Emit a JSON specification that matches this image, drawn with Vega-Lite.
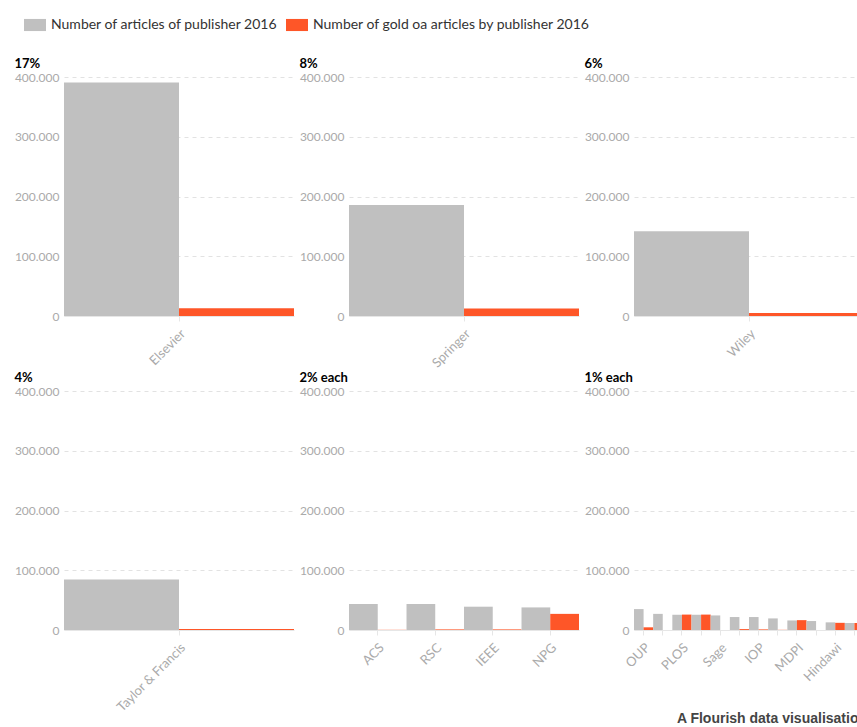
{
  "$schema": "https://vega.github.io/schema/vega-lite/v6.json",
  "padding": {"left": 14, "top": 14, "right": 5, "bottom": 3},
  "background": "#ffffff",
  "data": {
    "values": [
      {"panel": "17%", "publisher": "Elsevier", "series": "Number of articles of publisher 2016", "value": 391000},
      {"panel": "17%", "publisher": "Elsevier", "series": "Number of gold oa articles by publisher 2016", "value": 13000},
      {"panel": "8%", "publisher": "Springer", "series": "Number of articles of publisher 2016", "value": 185600},
      {"panel": "8%", "publisher": "Springer", "series": "Number of gold oa articles by publisher 2016", "value": 12400},
      {"panel": "6%", "publisher": "Wiley", "series": "Number of articles of publisher 2016", "value": 142000},
      {"panel": "6%", "publisher": "Wiley", "series": "Number of gold oa articles by publisher 2016", "value": 5000},
      {"panel": "4%", "publisher": "Taylor & Francis", "series": "Number of articles of publisher 2016", "value": 84500},
      {"panel": "4%", "publisher": "Taylor & Francis", "series": "Number of gold oa articles by publisher 2016", "value": 1500},
      {"panel": "2% each", "publisher": "ACS", "series": "Number of articles of publisher 2016", "value": 43500},
      {"panel": "2% each", "publisher": "ACS", "series": "Number of gold oa articles by publisher 2016", "value": 300},
      {"panel": "2% each", "publisher": "RSC", "series": "Number of articles of publisher 2016", "value": 43500},
      {"panel": "2% each", "publisher": "RSC", "series": "Number of gold oa articles by publisher 2016", "value": 1000},
      {"panel": "2% each", "publisher": "IEEE", "series": "Number of articles of publisher 2016", "value": 39000},
      {"panel": "2% each", "publisher": "IEEE", "series": "Number of gold oa articles by publisher 2016", "value": 1000},
      {"panel": "2% each", "publisher": "NPG", "series": "Number of articles of publisher 2016", "value": 37800},
      {"panel": "2% each", "publisher": "NPG", "series": "Number of gold oa articles by publisher 2016", "value": 27000},
      {"panel": "1% each", "publisher": "OUP", "series": "Number of articles of publisher 2016", "value": 35000},
      {"panel": "1% each", "publisher": "OUP", "series": "Number of gold oa articles by publisher 2016", "value": 4500},
      {"panel": "1% each", "publisher": "CUP", "series": "Number of articles of publisher 2016", "value": 27000},
      {"panel": "1% each", "publisher": "CUP", "series": "Number of gold oa articles by publisher 2016", "value": 0},
      {"panel": "1% each", "publisher": "PLOS", "series": "Number of articles of publisher 2016", "value": 25500},
      {"panel": "1% each", "publisher": "PLOS", "series": "Number of gold oa articles by publisher 2016", "value": 25800},
      {"panel": "1% each", "publisher": "Frontiers", "series": "Number of articles of publisher 2016", "value": 25500},
      {"panel": "1% each", "publisher": "Frontiers", "series": "Number of gold oa articles by publisher 2016", "value": 25800},
      {"panel": "1% each", "publisher": "Sage", "series": "Number of articles of publisher 2016", "value": 24400},
      {"panel": "1% each", "publisher": "Sage", "series": "Number of gold oa articles by publisher 2016", "value": 0},
      {"panel": "1% each", "publisher": "Wolters Kluwer", "series": "Number of articles of publisher 2016", "value": 21700},
      {"panel": "1% each", "publisher": "Wolters Kluwer", "series": "Number of gold oa articles by publisher 2016", "value": 1500},
      {"panel": "1% each", "publisher": "IOP", "series": "Number of articles of publisher 2016", "value": 21700},
      {"panel": "1% each", "publisher": "IOP", "series": "Number of gold oa articles by publisher 2016", "value": 1000},
      {"panel": "1% each", "publisher": "AIP", "series": "Number of articles of publisher 2016", "value": 19400},
      {"panel": "1% each", "publisher": "AIP", "series": "Number of gold oa articles by publisher 2016", "value": 300},
      {"panel": "1% each", "publisher": "MDPI", "series": "Number of articles of publisher 2016", "value": 16000},
      {"panel": "1% each", "publisher": "MDPI", "series": "Number of gold oa articles by publisher 2016", "value": 16500},
      {"panel": "1% each", "publisher": "APS", "series": "Number of articles of publisher 2016", "value": 15000},
      {"panel": "1% each", "publisher": "APS", "series": "Number of gold oa articles by publisher 2016", "value": 0},
      {"panel": "1% each", "publisher": "Hindawi", "series": "Number of articles of publisher 2016", "value": 12800},
      {"panel": "1% each", "publisher": "Hindawi", "series": "Number of gold oa articles by publisher 2016", "value": 12000},
      {"panel": "1% each", "publisher": "BMC", "series": "Number of articles of publisher 2016", "value": 11700},
      {"panel": "1% each", "publisher": "BMC", "series": "Number of gold oa articles by publisher 2016", "value": 11700}
    ]
  },
  "title": {
    "text": "A Flourish data visualisation",
    "orient": "bottom",
    "anchor": "end",
    "fontSize": 14,
    "fontWeight": "bold",
    "color": "#444444",
    "font": "Liberation Sans",
    "offset": 0,
    "dx": 3,
    "dy": -2
  },
  "columns": 3,
  "spacing": {"row": 75, "column": 55},
  "bounds": "flush",
  "resolve": {"scale": {"x": "independent", "xOffset": "independent"}},
  "concat": [
    {
      "title": "17%",
      "width": 230, "height": 239,
      "transform": [{"filter": "datum.panel == '17%'"}],
      "mark": {"type": "bar"},
      "encoding": {
        "x": {"field": "publisher", "type": "nominal", "sort": null, "scale": {"paddingInner": 0, "paddingOuter": 0}},
        "xOffset": {"field": "series", "type": "nominal", "sort": null, "scale": {"paddingInner": 0, "paddingOuter": 0}},
        "y": {"field": "value", "type": "quantitative", "scale": {"domain": [0, 400000], "nice": false}, "axis": {"values": [0, 100000, 200000, 300000, 400000]}},
        "color": {"field": "series", "type": "nominal", "sort": null, "scale": {"domain": ["Number of articles of publisher 2016", "Number of gold oa articles by publisher 2016"], "range": ["#c0c0c0", "#fe5628"]}}
      }
    },
    {
      "title": "8%",
      "width": 230, "height": 239,
      "transform": [{"filter": "datum.panel == '8%'"}],
      "mark": {"type": "bar"},
      "encoding": {
        "x": {"field": "publisher", "type": "nominal", "sort": null, "scale": {"paddingInner": 0, "paddingOuter": 0}},
        "xOffset": {"field": "series", "type": "nominal", "sort": null, "scale": {"paddingInner": 0, "paddingOuter": 0}},
        "y": {"field": "value", "type": "quantitative", "scale": {"domain": [0, 400000], "nice": false}, "axis": {"values": [0, 100000, 200000, 300000, 400000]}},
        "color": {"field": "series", "type": "nominal", "sort": null, "scale": {"domain": ["Number of articles of publisher 2016", "Number of gold oa articles by publisher 2016"], "range": ["#c0c0c0", "#fe5628"]}}
      }
    },
    {
      "title": "6%",
      "width": 230, "height": 239,
      "transform": [{"filter": "datum.panel == '6%'"}],
      "mark": {"type": "bar"},
      "encoding": {
        "x": {"field": "publisher", "type": "nominal", "sort": null, "scale": {"paddingInner": 0, "paddingOuter": 0}},
        "xOffset": {"field": "series", "type": "nominal", "sort": null, "scale": {"paddingInner": 0, "paddingOuter": 0}},
        "y": {"field": "value", "type": "quantitative", "scale": {"domain": [0, 400000], "nice": false}, "axis": {"values": [0, 100000, 200000, 300000, 400000]}},
        "color": {"field": "series", "type": "nominal", "sort": null, "scale": {"domain": ["Number of articles of publisher 2016", "Number of gold oa articles by publisher 2016"], "range": ["#c0c0c0", "#fe5628"]}}
      }
    },
    {
      "title": "4%",
      "width": 230, "height": 239,
      "transform": [{"filter": "datum.panel == '4%'"}],
      "mark": {"type": "bar"},
      "encoding": {
        "x": {"field": "publisher", "type": "nominal", "sort": null, "scale": {"paddingInner": 0, "paddingOuter": 0}},
        "xOffset": {"field": "series", "type": "nominal", "sort": null, "scale": {"paddingInner": 0, "paddingOuter": 0}},
        "y": {"field": "value", "type": "quantitative", "scale": {"domain": [0, 400000], "nice": false}, "axis": {"values": [0, 100000, 200000, 300000, 400000]}},
        "color": {"field": "series", "type": "nominal", "sort": null, "scale": {"domain": ["Number of articles of publisher 2016", "Number of gold oa articles by publisher 2016"], "range": ["#c0c0c0", "#fe5628"]}}
      }
    },
    {
      "title": "2% each",
      "width": 230, "height": 239,
      "transform": [{"filter": "datum.panel == '2% each'"}],
      "mark": {"type": "bar"},
      "encoding": {
        "x": {"field": "publisher", "type": "nominal", "sort": null, "scale": {"paddingInner": 0, "paddingOuter": 0}},
        "xOffset": {"field": "series", "type": "nominal", "sort": null, "scale": {"paddingInner": 0, "paddingOuter": 0}},
        "y": {"field": "value", "type": "quantitative", "scale": {"domain": [0, 400000], "nice": false}, "axis": {"values": [0, 100000, 200000, 300000, 400000]}},
        "color": {"field": "series", "type": "nominal", "sort": null, "scale": {"domain": ["Number of articles of publisher 2016", "Number of gold oa articles by publisher 2016"], "range": ["#c0c0c0", "#fe5628"]}}
      }
    },
    {
      "title": "1% each",
      "width": 230, "height": 239,
      "transform": [{"filter": "datum.panel == '1% each'"}],
      "mark": {"type": "bar"},
      "encoding": {
        "x": {"field": "publisher", "type": "nominal", "sort": null, "scale": {"paddingInner": 0, "paddingOuter": 0},
              "axis": {"labelExpr": "indexof(['OUP','PLOS','Sage','IOP','MDPI','Hindawi'], datum.value) >= 0 ? datum.label : ''"}},
        "xOffset": {"field": "series", "type": "nominal", "sort": null, "scale": {"paddingInner": 0, "paddingOuter": 0}},
        "y": {"field": "value", "type": "quantitative", "scale": {"domain": [0, 400000], "nice": false}, "axis": {"values": [0, 100000, 200000, 300000, 400000]}},
        "color": {"field": "series", "type": "nominal", "sort": null, "scale": {"domain": ["Number of articles of publisher 2016", "Number of gold oa articles by publisher 2016"], "range": ["#c0c0c0", "#fe5628"]}}
      }
    }
  ],
  "config": {
    "font": "Lato",
    "view": {"stroke": null},
    "title": {"anchor": "start", "fontSize": 13, "fontWeight": "bold", "color": "#000000", "font": "Lato", "offset": 0, "dy": 4},
    "axisX": {
      "title": null, "labelAngle": -45, "labelColor": "#aaaaaa", "labelFontSize": 13, "labelFont": "Lato",
      "tickColor": "#e6e6e6", "tickSize": 5, "domainColor": "#e6e6e6", "grid": false, "labelPadding": 6
    },
    "axisY": {
      "title": null, "domain": false, "ticks": false, "grid": true, "gridColor": "#e2e2e2", "gridDash": [4, 4],
      "labelColor": "#aaaaaa", "labelFontSize": 12, "labelFont": "Lato", "labelPadding": 5,
      "labelExpr": "replace(format(datum.value, ','), ',', '.')"
    },
    "legend": {
      "orient": "none", "legendX": -40, "legendY": -63, "direction": "horizontal", "title": null,
      "symbolType": "M-1,-0.55H1V0.55H-1Z", "symbolSize": 484, "symbolStrokeWidth": 0, "symbolOpacity": 1,
      "labelFontSize": 14, "labelColor": "#333333", "labelFont": "Lato", "labelOffset": 5, "columnPadding": 8,
      "labelLimit": 400
    }
  }
}
